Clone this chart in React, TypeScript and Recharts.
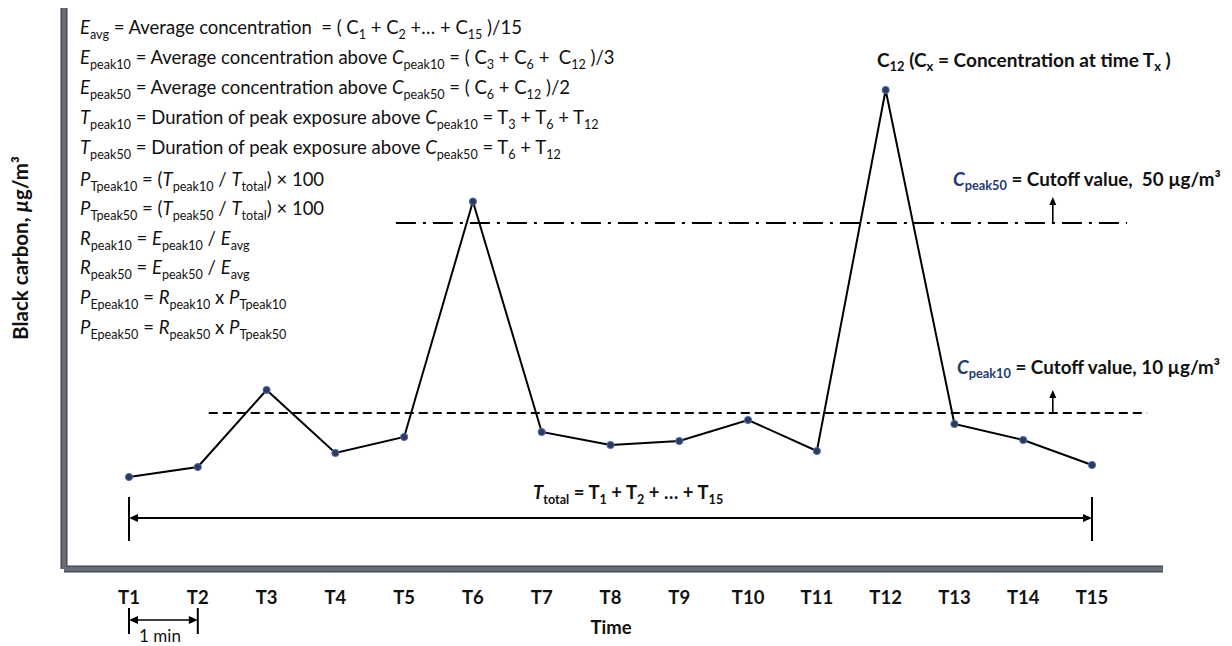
import React from 'react';
import { LineChart, Line, XAxis, YAxis, ReferenceLine } from 'recharts';

// ---- data ----
const categories = ['T1', 'T2', 'T3', 'T4', 'T5', 'T6', 'T7', 'T8', 'T9', 'T10', 'T11', 'T12', 'T13', 'T14', 'T15'];
const timeIndex = [1, 2, 3, 4, 5, 6, 7, 8, 9, 10, 11, 12, 13, 14, 15];
const concentration = [18.4, 20.4, 35.8, 23.2, 26.4, 73.5, 27.4, 24.8, 25.6, 29.8, 23.6, 95.8, 29, 25.8, 20.8];

// cutoff lines (in chart units)
const cutoff50Level = 69.2;
const cutoff10Level = 31.2;
const cutoff50Span = [4.88, 15.51];
const cutoff10Span = [2.16, 15.8];
const cutoffArrowX = 14.43;
const cutoff50ArrowTop = 74.4;
const cutoff10ArrowTop = 35.8;

// T_total arrow
const totalLevel = 10.2;
const totalBar = [5.6, 14.4];
// 1 min arrow
const minuteLevel = -10.2;
const minuteBar = [-13, -7.8];

const xDomain = [0.055, 16.032];
const yDomain = [0, 112.2];

const data = timeIndex.map((t, i) => ({ time: t, label: categories[i], value: concentration[i] }));

const FONT = 'Lato, "Liberation Sans", sans-serif';
const AXIS_BORDER = '#34425e';
const AXIS_FILL = '#6c6d72';

const HArrow = (props: any) => {
  const { x1, y1, x2, y2 } = props;
  const h = 9, w = 4;
  const sw = props.arrowWidth || 2;
  return (
    <g>
      <line x1={x1 + h - 1} y1={y1} x2={x2 - h + 1} y2={y2} stroke="#000" strokeWidth={sw} />
      <polygon points={`${x1},${y1} ${x1 + h},${y1 - w} ${x1 + h},${y1 + w}`} fill="#000" />
      <polygon points={`${x2},${y2} ${x2 - h},${y2 - w} ${x2 - h},${y2 + w}`} fill="#000" />
    </g>
  );
};

const UpArrow = (props: any) => {
  const { x1, y1, x2, y2 } = props;
  const top = Math.min(y1, y2);
  const bot = Math.max(y1, y2);
  const h = 8, w = 3.5;
  return (
    <g>
      <line x1={x1} y1={bot} x2={x2} y2={top + h - 1} stroke="#000" strokeWidth={1.6} />
      <polygon points={`${x1},${top} ${x1 - w},${top + h} ${x1 + w},${top + h}`} fill="#000" />
    </g>
  );
};

const Tick = (props: any) => {
  const { x, y, payload } = props;
  return (
    <text x={x} y={y + 28} textAnchor="middle" dominantBaseline="central"
      style={{ fontFamily: FONT, fontWeight: 700, fontSize: 18.5, fill: '#111' }}>
      {categories[payload.value - 1]}
    </text>
  );
};

const I = ({ children }: any) => <i>{children}</i>;
const S = ({ children }: any) => (
  <span style={{ fontSize: '0.68em', verticalAlign: '-0.32em', fontStyle: 'normal' }}>{children}</span>
);

const lineStyle = (top: number, left: number, extra: any = {}): React.CSSProperties => ({
  position: 'absolute',
  left,
  top,
  transform: 'translateY(-50%)',
  whiteSpace: 'pre',
  fontFamily: FONT,
  fontSize: 18.5,
  color: '#111',
  lineHeight: '22px',
  ...extra,
});

const NAVY = '#1f3a6e';

export default function App() {
  const formulaTops = [31, 61, 91, 121, 151, 183, 212, 242, 271, 301, 331];
  const formulas = [
    <><I>E</I><S>avg</S> = Average concentration  = ( C<S>1</S> + C<S>2</S> +… + C<S>15</S> )/15</>,
    <><I>E</I><S>peak10</S> = Average concentration above <I>C</I><S>peak10</S> = ( C<S>3</S> + C<S>6</S> +  C<S>12</S> )/3</>,
    <><I>E</I><S>peak50</S> = Average concentration above <I>C</I><S>peak50</S> = ( C<S>6</S> + C<S>12</S> )/2</>,
    <><I>T</I><S>peak10</S> = Duration of peak exposure above <I>C</I><S>peak10</S> = T<S>3</S> + T<S>6</S> + T<S>12</S></>,
    <><I>T</I><S>peak50</S> = Duration of peak exposure above <I>C</I><S>peak50</S> = T<S>6</S> + T<S>12</S></>,
    <><I>P</I><S>Tpeak10</S> = (<I>T</I><S>peak10</S> / <I>T</I><S>total</S>) × 100</>,
    <><I>P</I><S>Tpeak50</S> = (<I>T</I><S>peak50</S> / <I>T</I><S>total</S>) × 100</>,
    <><I>R</I><S>peak10</S> = <I>E</I><S>peak10</S> / <I>E</I><S>avg</S></>,
    <><I>R</I><S>peak50</S> = <I>E</I><S>peak50</S> / <I>E</I><S>avg</S></>,
    <><I>P</I><S>Epeak10</S> = <I>R</I><S>peak10</S> x <I>P</I><S>Tpeak10</S></>,
    <><I>P</I><S>Epeak50</S> = <I>R</I><S>peak50</S> x <I>P</I><S>Tpeak50</S></>,
  ];

  return (
    <div style={{ position: 'absolute', left: 0, top: 0, width: 1232, height: 646, background: '#fff', overflow: 'hidden' }}>
      <LineChart width={1232} height={646} data={data} margin={{ top: 8, right: 69, bottom: 47, left: 62 }}>
        <ReferenceLine x={xDomain[0]} stroke={AXIS_BORDER} strokeWidth={7} ifOverflow="visible" />
        <ReferenceLine y={yDomain[0]} stroke={AXIS_BORDER} strokeWidth={7} ifOverflow="visible" />
        <XAxis
          dataKey="time"
          type="number"
          domain={xDomain}
          allowDataOverflow
          ticks={timeIndex}
          tick={<Tick />}
          tickLine={false}
          tickSize={0}
          tickMargin={0}
          height={30}
          axisLine={{ stroke: AXIS_FILL, strokeWidth: 4.5 }}
        />
        <YAxis
          type="number"
          domain={yDomain}
          allowDataOverflow
          width={2}
          tick={false}
          tickLine={false}
          axisLine={{ stroke: AXIS_FILL, strokeWidth: 4.5 }}
        />
        <ReferenceLine
          segment={[{ x: cutoff50Span[0], y: cutoff50Level }, { x: cutoff50Span[1], y: cutoff50Level }]}
          stroke="#000" strokeWidth={2} strokeDasharray="20 7 3 7" ifOverflow="visible"
        />
        <ReferenceLine
          segment={[{ x: cutoff10Span[0], y: cutoff10Level }, { x: cutoff10Span[1], y: cutoff10Level }]}
          stroke="#000" strokeWidth={2} strokeDasharray="9 5" ifOverflow="visible"
        />
        <ReferenceLine
          segment={[{ x: cutoffArrowX, y: cutoff50Level }, { x: cutoffArrowX, y: cutoff50ArrowTop }]}
          shape={<UpArrow />} ifOverflow="visible"
        />
        <ReferenceLine
          segment={[{ x: cutoffArrowX, y: cutoff10Level }, { x: cutoffArrowX, y: cutoff10ArrowTop }]}
          shape={<UpArrow />} ifOverflow="visible"
        />
        <ReferenceLine
          segment={[{ x: timeIndex[0], y: totalLevel }, { x: timeIndex[14], y: totalLevel }]}
          shape={<HArrow />} ifOverflow="visible"
        />
        <ReferenceLine
          segment={[{ x: timeIndex[0], y: totalBar[0] }, { x: timeIndex[0], y: totalBar[1] }]}
          stroke="#000" strokeWidth={2} ifOverflow="visible"
        />
        <ReferenceLine
          segment={[{ x: timeIndex[14], y: totalBar[0] }, { x: timeIndex[14], y: totalBar[1] }]}
          stroke="#000" strokeWidth={2} ifOverflow="visible"
        />
        <ReferenceLine
          segment={[{ x: timeIndex[0], y: minuteLevel }, { x: timeIndex[1], y: minuteLevel }]}
          shape={<HArrow arrowWidth={1.6} />} ifOverflow="visible"
        />
        <ReferenceLine
          segment={[{ x: timeIndex[0], y: minuteBar[0] }, { x: timeIndex[0], y: minuteBar[1] }]}
          stroke="#000" strokeWidth={2} ifOverflow="visible"
        />
        <ReferenceLine
          segment={[{ x: timeIndex[1], y: minuteBar[0] }, { x: timeIndex[1], y: minuteBar[1] }]}
          stroke="#000" strokeWidth={2} ifOverflow="visible"
        />
        <Line
          type="linear"
          dataKey="value"
          stroke="#000"
          strokeWidth={2}
          dot={{ r: 3.6, fill: '#2f3b59', stroke: '#4a6fb5', strokeWidth: 1 }}
          isAnimationActive={false}
        />
      </LineChart>

      {formulas.map((f, i) => (
        <div key={i} style={lineStyle(formulaTops[i], 80)}>{f}</div>
      ))}

      <div style={lineStyle(63, 877, { fontWeight: 700, fontSize: 19 })}>
        C<S>12</S> (C<S>x</S> = Concentration at time T<S>x</S> )
      </div>
      <div style={lineStyle(182, 953, { fontWeight: 700, fontSize: 18.8 })}>
        <span style={{ color: NAVY }}><I>C</I><S>peak50</S></span> = Cutoff value,  50 µg/m³
      </div>
      <div style={lineStyle(370, 957, { fontWeight: 700, fontSize: 18.8 })}>
        <span style={{ color: NAVY }}><I>C</I><S>peak10</S></span> = Cutoff value, 10 µg/m³
      </div>
      <div style={lineStyle(496, 533, { fontWeight: 700, fontSize: 18.5 })}>
        <I>T</I><S>total</S> = T<S>1</S> + T<S>2</S> + … + T<S>15</S>
      </div>
      <div style={lineStyle(627, 611, { fontWeight: 700, fontSize: 18.5, transform: 'translate(-50%, -50%)' })}>Time</div>
      <div style={lineStyle(636, 160, { fontSize: 17, lineHeight: '18px', transform: 'translate(-50%, -50%)' })}>1 min</div>
      <div style={lineStyle(248, 20, { fontWeight: 700, fontSize: 20.5, transform: 'translate(-50%, -50%) rotate(-90deg)' })}>
        Black carbon, <i>µ</i>g/m³
      </div>
    </div>
  );
}
